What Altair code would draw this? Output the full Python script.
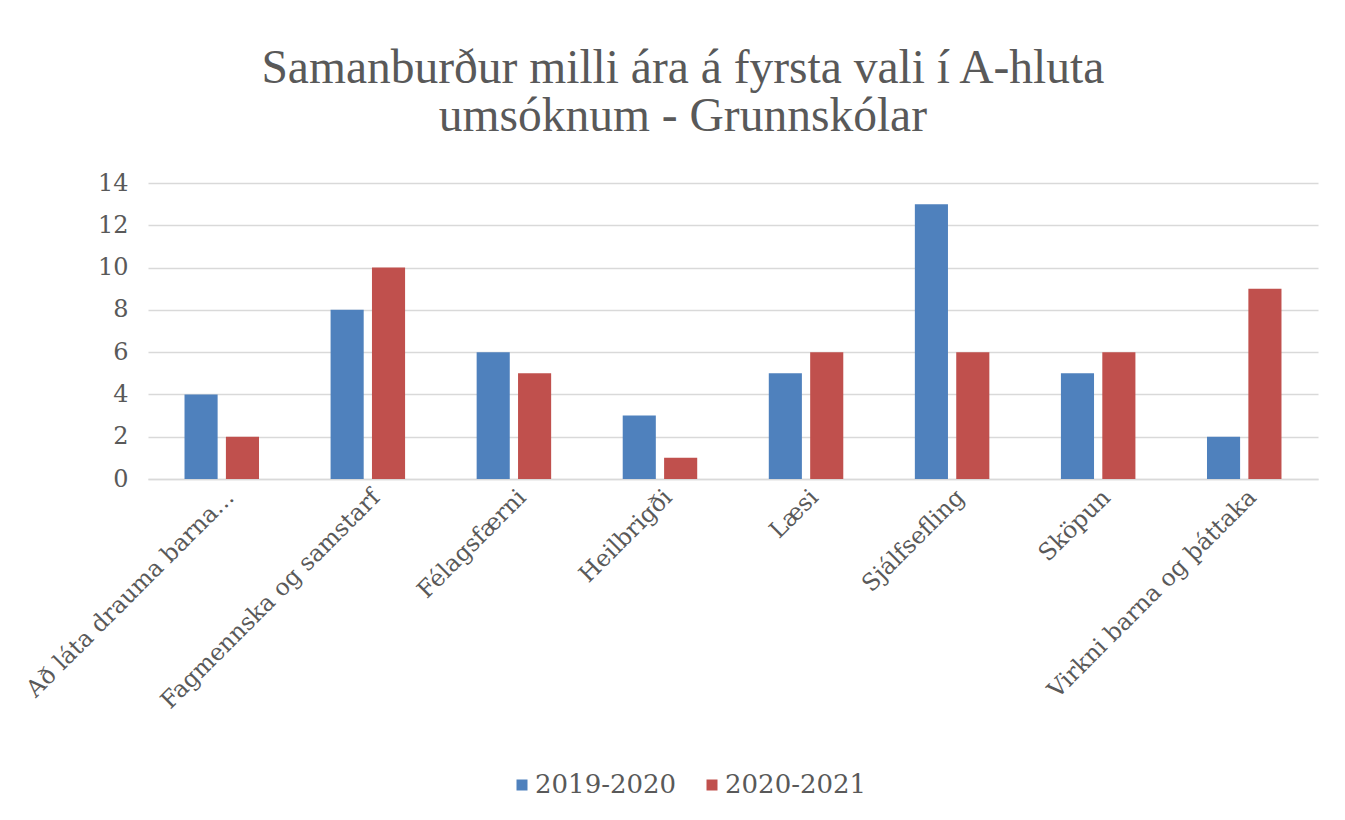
import altair as alt
import pandas as pd

categories = ["Að láta drauma barna...", "Fagmennska og samstarf", "Félagsfærni", "Heilbrigði",
              "Læsi", "Sjálfsefling", "Sköpun", "Virkni barna og þáttaka"]
series = ["2019-2020", "2020-2021"]
values_2019 = [4, 8, 6, 3, 5, 13, 5, 2]
values_2020 = [2, 10, 5, 1, 6, 6, 6, 9]
y_ticks = [0, 2, 4, 6, 8, 10, 12, 14]

rows = []
for c, a, b in zip(categories, values_2019, values_2020):
    rows.append({"Flokkur": c, "Ár": series[0], "Fjöldi": a})
    rows.append({"Flokkur": c, "Ár": series[1], "Fjöldi": b})
df = pd.DataFrame(rows)

TITLE_FONT = "Liberation Serif"
FONT = "DejaVu Serif"
GRAY = "#595959"

chart = alt.Chart(df).mark_bar().encode(
    x=alt.X("Flokkur:N", sort=categories, title=None,
            scale=alt.Scale(paddingInner=0.49, paddingOuter=0.25),
            axis=alt.Axis(labelAngle=-45, labelFontSize=23.5, labelColor=GRAY, labelFont=FONT,
                          ticks=False, domainColor="#d9d9d9", domainWidth=1.5, labelPadding=6,
                          labelLimit=500)),
    xOffset=alt.XOffset("Ár:N", sort=series, scale=alt.Scale(paddingInner=0.2)),
    y=alt.Y("Fjöldi:Q", title=None, scale=alt.Scale(domain=[0, 14]),
            axis=alt.Axis(values=y_ticks, labelFontSize=24, labelColor=GRAY, labelFont=FONT,
                          ticks=False, domain=False, gridColor="#d9d9d9", gridWidth=1.5,
                          labelPadding=20)),
    color=alt.Color("Ár:N", sort=series, title=None,
                    scale=alt.Scale(domain=series, range=["#4f81bd", "#c0504d"]),
                    legend=alt.Legend(orient="none", legendX=361, legendY=589,
                                      direction="horizontal", symbolType="square",
                                      symbolSize=121, labelFontSize=26, labelColor=GRAY,
                                      labelFont=FONT, columnPadding=22, labelOffset=0,
                                      symbolStrokeWidth=0)),
).properties(
    width=1170,
    height=296,
    title=alt.TitleParams(["Samanburður milli ára á fyrsta vali í A-hluta", "umsóknum - Grunnskólar"],
                          fontSize=47.5, font=TITLE_FONT, color=GRAY, fontWeight="normal",
                          lineHeight=48, offset=31, anchor="middle", frame="bounds", dx=13),
    autosize=alt.AutoSizeParams(type="none"),
    padding={"left": 140, "top": 175, "right": 19, "bottom": 330},
).configure_view(stroke=None)

chart.save("out.html", embed_options={"renderer": "svg", "actions": False})
